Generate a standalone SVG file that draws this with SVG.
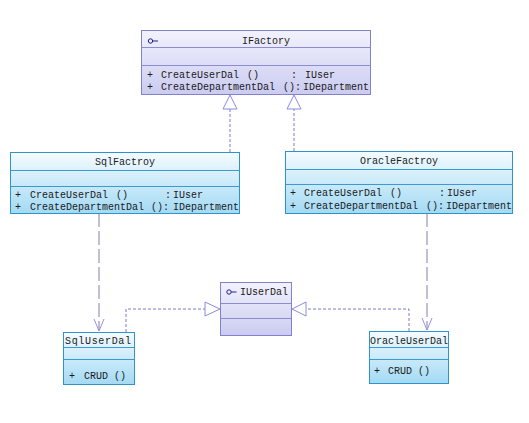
<svg xmlns="http://www.w3.org/2000/svg" width="529" height="423" viewBox="0 0 529 423">
<style>
text{font-family:"Liberation Mono","DejaVu Sans Mono",monospace;font-size:10px;fill:#1a1a1a}
.c{text-anchor:middle}
.cy{fill:url(#gc);stroke:#2f93c9;stroke-width:1}
.cyl{stroke:#3b9bd0;stroke-width:1}
.lv{fill:url(#gl);stroke:#8282c8;stroke-width:1}
.lvl{stroke:#8c8cd0;stroke-width:1}
.ico{fill:none;stroke:#202088;stroke-width:1}
.real{fill:none;stroke:#7a7acc;stroke-width:1;stroke-dasharray:3,2}
.tri{fill:#fff;stroke:#8a8ae0;stroke-width:1}
.dep{fill:none;stroke:#8a7ab0;stroke-width:1;stroke-dasharray:14,4}
.head{fill:none;stroke:#9a8ee6;stroke-width:1}
</style>
<defs>
<linearGradient id="gc" x1="0" y1="0" x2="0" y2="1">
<stop offset="0" stop-color="#f4fbff"/>
<stop offset="1" stop-color="#a3daf4"/>
</linearGradient>
<linearGradient id="gl" x1="0" y1="0" x2="0" y2="1">
<stop offset="0" stop-color="#f2f2fd"/>
<stop offset="1" stop-color="#cbcbf1"/>
</linearGradient>
</defs>
<rect width="529" height="423" fill="#fff"/>

<g id="connectors">
<line class="real" x1="230" y1="152" x2="230" y2="109"/>
<polygon class="tri" points="230,95 223,109 237,109"/>
<line class="real" x1="294" y1="151" x2="294" y2="109"/>
<polygon class="tri" points="294,95 287,109 301,109"/>
<line class="dep" x1="99" y1="213" x2="99" y2="331"/>
<polyline class="head" points="94,319 99,331 104,319"/>
<line class="dep" x1="427" y1="213" x2="427" y2="330"/>
<polyline class="head" points="422,318 427,330 432,318"/>
<path class="real" d="M126,332 V309 H205"/>
<polygon class="tri" points="220,309 205,302 205,316"/>
<path class="real" d="M409,331 V309 H306"/>
<polygon class="tri" points="292,309 306,302 306,316"/>
</g>

<g id="IFactory">
<rect class="lv" x="141.5" y="30.5" width="229" height="64"/>
<line class="lvl" x1="141.5" y1="47.5" x2="370.5" y2="47.5"/>
<line class="lvl" x1="141.5" y1="65.5" x2="370.5" y2="65.5"/>
<circle class="ico" cx="150.5" cy="41" r="2.2"/>
<line class="ico" x1="152.7" y1="41" x2="158" y2="41"/>
<text class="c" x="266" y="43.5">IFactory</text>
<text x="147" y="77.5">+</text><text x="161" y="77.5">CreateUserDal</text><text x="247" y="77.5">()</text><text x="291" y="77.5">:</text><text x="305" y="77.5">IUser</text>
<text x="147" y="90">+</text><text x="161" y="90">CreateDepartmentDal</text><text x="283" y="90">():</text><text x="303" y="90">IDepartment</text>
</g>

<g id="SqlFactroy">
<rect class="cy" x="10.5" y="152.5" width="229" height="61"/>
<line class="cyl" x1="10.5" y1="170.5" x2="239.5" y2="170.5"/>
<line class="cyl" x1="10.5" y1="186.5" x2="239.5" y2="186.5"/>
<text class="c" x="125" y="165">SqlFactroy</text>
<text x="15" y="197.5">+</text><text x="30" y="197.5">CreateUserDal</text><text x="116" y="197.5">()</text><text x="165" y="197.5">:</text><text x="173" y="197.5">IUser</text>
<text x="15" y="209.5">+</text><text x="30" y="209.5">CreateDepartmentDal</text><text x="151" y="209.5">():</text><text x="173" y="209.5">IDepartment</text>
</g>

<g id="OracleFactroy">
<rect class="cy" x="285.5" y="151.5" width="227" height="62"/>
<line class="cyl" x1="285.5" y1="169.5" x2="512.5" y2="169.5"/>
<line class="cyl" x1="285.5" y1="184.5" x2="512.5" y2="184.5"/>
<text class="c" x="399" y="163.5">OracleFactroy</text>
<text x="290" y="195.5">+</text><text x="304" y="195.5">CreateUserDal</text><text x="390" y="195.5">()</text><text x="439" y="195.5">:</text><text x="447" y="195.5">IUser</text>
<text x="290" y="209">+</text><text x="304" y="209">CreateDepartmentDal</text><text x="426" y="209">():</text><text x="446" y="209">IDepartment</text>
</g>

<g id="IUserDal">
<rect class="lv" x="220.5" y="282.5" width="71" height="53"/>
<line class="lvl" x1="220.5" y1="303.5" x2="291.5" y2="303.5"/>
<line class="lvl" x1="220.5" y1="318.5" x2="291.5" y2="318.5"/>
<circle class="ico" cx="229" cy="292" r="2.2"/>
<line class="ico" x1="231.2" y1="292" x2="236.5" y2="292"/>
<text x="240" y="295">IUserDal</text>
</g>

<g id="SqlUserDal">
<rect class="cy" x="63.5" y="332.5" width="71" height="52"/>
<line class="cyl" x1="63.5" y1="347.5" x2="134.5" y2="347.5"/>
<line class="cyl" x1="63.5" y1="359.5" x2="134.5" y2="359.5"/>
<text x="65" y="343.5" textLength="66" lengthAdjust="spacing">SqlUserDal</text>
<text x="69" y="378.5">+</text><text x="84" y="378.5">CRUD</text><text x="114" y="378.5">()</text>
</g>

<g id="OracleUserDal">
<rect class="cy" x="369.5" y="331.5" width="79" height="52"/>
<line class="cyl" x1="369.5" y1="347.5" x2="448.5" y2="347.5"/>
<line class="cyl" x1="369.5" y1="359.5" x2="448.5" y2="359.5"/>
<text x="370" y="343.5">OracleUserDal</text>
<text x="374" y="373.5">+</text><text x="388" y="373.5">CRUD</text><text x="418" y="373.5">()</text>
</g>
</svg>
